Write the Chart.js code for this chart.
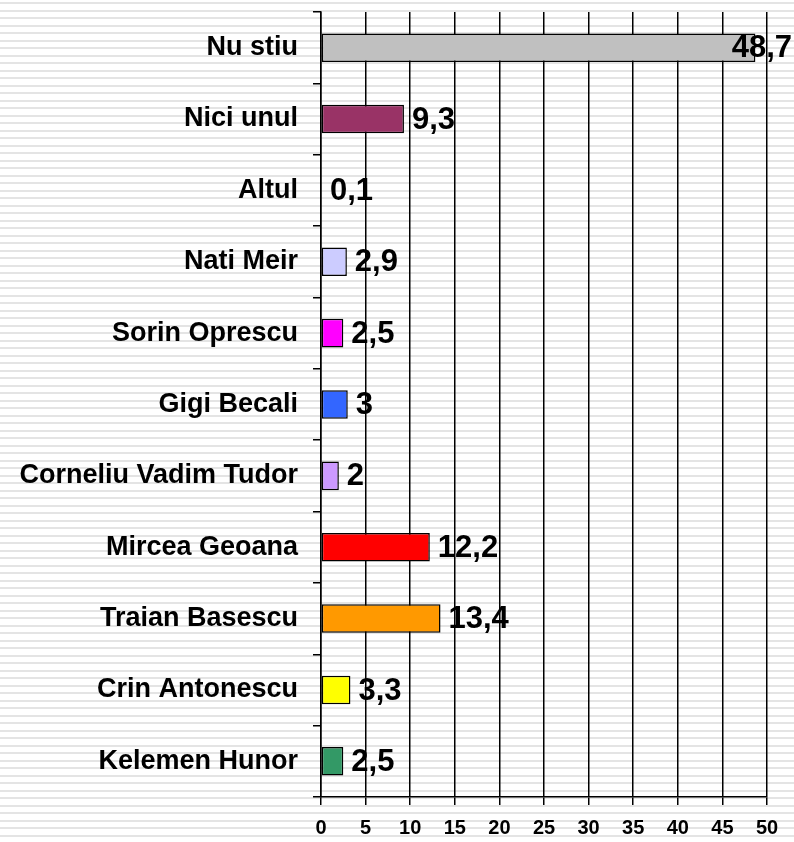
<!DOCTYPE html>
<html>
<head>
<meta charset="utf-8">
<script src="https://cdn.jsdelivr.net/npm/chart.js@4/dist/chart.umd.min.js"></script>
<style>
  html, body { margin: 0; padding: 0; }
  body {
    width: 794px; height: 842px; overflow: hidden;
    background: repeating-linear-gradient(to bottom, #ffffff 0px, #ffffff 2px, #e4e4e4 2px, #e4e4e4 4px, #ffffff 4px, #ffffff 7.5px);
  }
  #myChart { display: block; }
</style>
</head>
<body>
<canvas id="myChart" width="794" height="842"></canvas>
<script>
const candidati = ["Nu stiu", "Nici unul", "Altul", "Nati Meir", "Sorin Oprescu", "Gigi Becali",
  "Corneliu Vadim Tudor", "Mircea Geoana", "Traian Basescu", "Crin Antonescu", "Kelemen Hunor"];
const procente = [48.7, 9.3, 0.1, 2.9, 2.5, 3, 2, 12.2, 13.4, 3.3, 2.5];
const culori = ["#c0c0c0", "#993366", "#33ccff", "#ccccff", "#ff00ff", "#3366ff",
  "#cc99ff", "#ff0000", "#ff9900", "#ffff00", "#339966"];
const xTicks = [0, 5, 10, 15, 20, 25, 30, 35, 40, 45, 50];

// etichete cu valoarea, in dreapta barei (virgula zecimala)
const valoriPlugin = {
  id: "valori",
  afterDatasetsDraw(chart) {
    const ctx = chart.ctx;
    const meta = chart.getDatasetMeta(0);
    ctx.save();
    ctx.font = "bold 31px Arial, 'Liberation Sans', sans-serif";
    ctx.fillStyle = "#000";
    ctx.textBaseline = "middle";
    ctx.textAlign = "left";
    meta.data.forEach((bar, i) => {
      const txt = String(procente[i]).replace(".", ",");
      const w = ctx.measureText(txt).width;
      let x = bar.x + 8;
      if (x + w > chart.width - 2) x = chart.width - 2 - w;
      ctx.fillText(txt, x, bar.y + 1);
    });
    ctx.restore();
  },
};

const ctx = document.getElementById("myChart");
new Chart(ctx, {
  type: "bar",
  data: {
    labels: candidati,
    datasets: [
      {
        data: procente,
        backgroundColor: culori,
        borderColor: "#000",
        borderWidth: 1.5,
        borderSkipped: false,
        barPercentage: 0.4,
        categoryPercentage: 1,
      },
    ],
  },
  options: {
    indexAxis: "y",
    responsive: false,
    animation: false,
    layout: { padding: { top: 12, right: 27, left: 0, bottom: 0 } },
    scales: {
      x: {
        min: 0,
        max: 50,
        afterFit: (s) => { s.height = 45; },
        afterBuildTicks: (s) => { s.ticks = xTicks.map((v) => ({ value: v })); },
        grid: { color: "#000", lineWidth: 1.5, tickLength: 8 },
        border: { color: "#000", width: 1.5 },
        ticks: {
          color: "#000",
          padding: 11,
          maxRotation: 0,
          font: { family: "Arial, 'Liberation Sans', sans-serif", size: 20, weight: "bold" },
        },
      },
      y: {
        afterFit: (s) => { s.width = 321; s.paddingTop = 0; s.paddingBottom = 0; },
        grid: { drawOnChartArea: false, color: "#000", lineWidth: 1.5, tickLength: 8 },
        border: { color: "#000", width: 1.5 },
        ticks: {
          color: "#000",
          padding: 15,
          font: { family: "Arial, 'Liberation Sans', sans-serif", size: 27, weight: "bold" },
        },
      },
    },
    plugins: {
      legend: { display: false },
      tooltip: { enabled: false },
    },
  },
  plugins: [valoriPlugin],
});
</script>
</body>
</html>
